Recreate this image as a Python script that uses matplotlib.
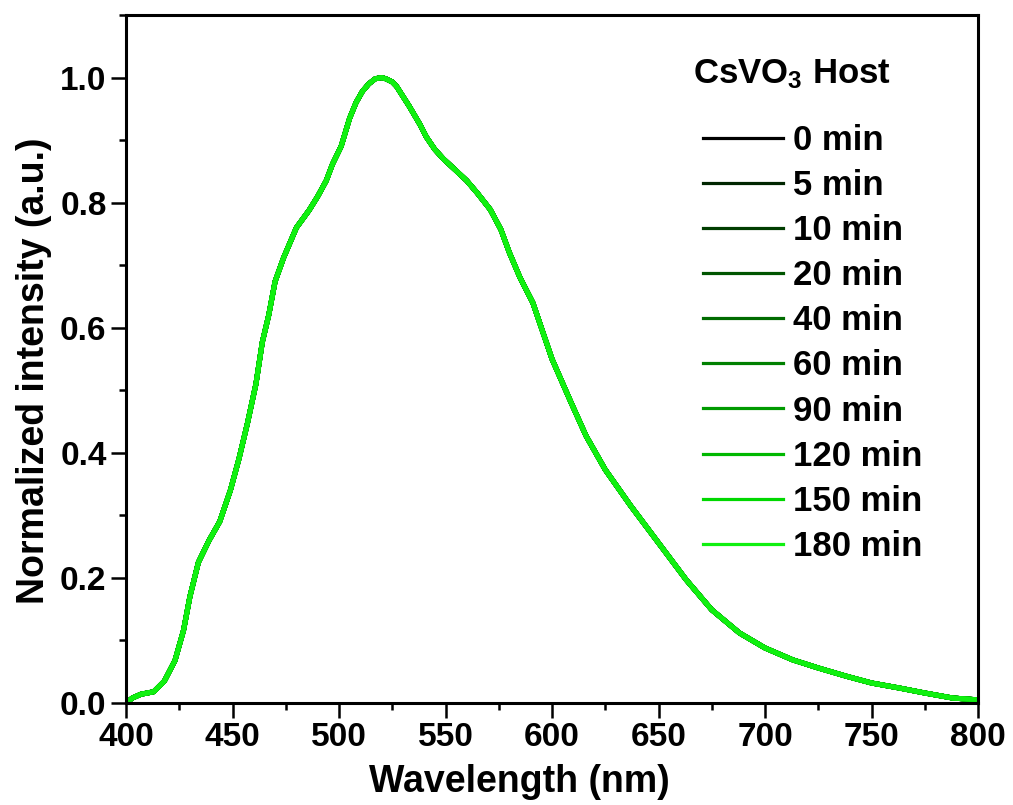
import matplotlib
matplotlib.use('Agg')
import matplotlib.pyplot as plt
from matplotlib.ticker import MultipleLocator

plt.rcParams['font.family'] = ['Liberation Sans', 'DejaVu Sans']
plt.rcParams['font.weight'] = 'bold'
plt.rcParams['mathtext.fontset'] = 'custom'
plt.rcParams['mathtext.rm'] = 'Liberation Sans:bold'
plt.rcParams['mathtext.bf'] = 'Liberation Sans:bold'
plt.rcParams['mathtext.default'] = 'rm'

# spectrum (all runs overlap almost exactly)
wavelength = [400, 403, 407, 413, 418, 423, 427, 430, 434, 439, 444, 449, 453, 457,
              461, 464, 467, 470, 474, 480, 486, 490, 494, 497, 501, 505, 508, 511,
              514, 517, 520, 522, 525, 527, 530, 533, 538, 541, 545, 549, 555, 560,
              565, 571, 576, 580, 585, 591, 600, 609, 616, 625, 637, 650, 663, 675,
              688, 700, 713, 725, 738, 750, 763, 775, 788, 800]
intensity = [0.0, 0.008, 0.014, 0.018, 0.035, 0.068, 0.116, 0.17, 0.225, 0.26, 0.29,
             0.34, 0.39, 0.447, 0.51, 0.577, 0.62, 0.674, 0.712, 0.76, 0.788, 0.81,
             0.835, 0.862, 0.89, 0.935, 0.96, 0.978, 0.99, 0.998, 1.0, 0.998, 0.993,
             0.986, 0.97, 0.954, 0.925, 0.905, 0.885, 0.87, 0.851, 0.835, 0.815,
             0.789, 0.757, 0.72, 0.68, 0.64, 0.55, 0.48, 0.427, 0.373, 0.315, 0.256,
             0.197, 0.149, 0.112, 0.088, 0.069, 0.056, 0.043, 0.032, 0.024, 0.016,
             0.008, 0.005]

times = ['0 min', '5 min', '10 min', '20 min', '40 min', '60 min', '90 min',
         '120 min', '150 min', '180 min']
colors = ['#000000', '#002600', '#003d00', '#005500', '#006b00', '#008000',
          '#009a00', '#00b800', '#00d800', '#10f010']

fig = plt.figure(figsize=(10.13, 8.05), dpi=100)
ax = fig.add_axes([126/1013, 102/805, 852/1013, 688/805])

for lab, c in zip(times, colors):
    ax.plot(wavelength, intensity, color=c, lw=3.6, label=lab)

ax.set_xlim(400, 800)
ax.set_ylim(0, 1.1)
ax.xaxis.set_major_locator(MultipleLocator(50))
ax.xaxis.set_minor_locator(MultipleLocator(25))
ax.yaxis.set_major_locator(MultipleLocator(0.2))
ax.yaxis.set_minor_locator(MultipleLocator(0.1))
ax.yaxis.set_major_formatter(plt.FormatStrFormatter('%.1f'))

for s in ax.spines.values():
    s.set_linewidth(2.2)
ax.tick_params(which='both', direction='out', width=1.8, top=False, right=False,
               labelsize=24)
ax.tick_params(which='major', length=11, pad=3)
ax.tick_params(which='minor', length=5)

ax.set_xlabel('Wavelength (nm)', fontsize=27, fontweight='bold')
ax.set_ylabel('Normalized intensity (a.u.)', fontsize=27, fontweight='bold')
ax.xaxis.set_label_coords(0.462, -0.088)
ax.yaxis.set_label_coords(-0.087, 0.483)

ax.text(666, 1.005, 'CsVO$_3$ Host', fontsize=25, fontweight='bold',
        va='center', ha='left')
leg = ax.legend(frameon=False, loc='upper left', bbox_to_anchor=(0.677, 0.842),
                fontsize=25, handlelength=2.3, handletextpad=0.3, labelspacing=0.35,
                borderpad=0, borderaxespad=0)
for h in leg.legend_handles:
    h.set_linewidth(2.3)

fig.savefig('out.png', dpi=100)
